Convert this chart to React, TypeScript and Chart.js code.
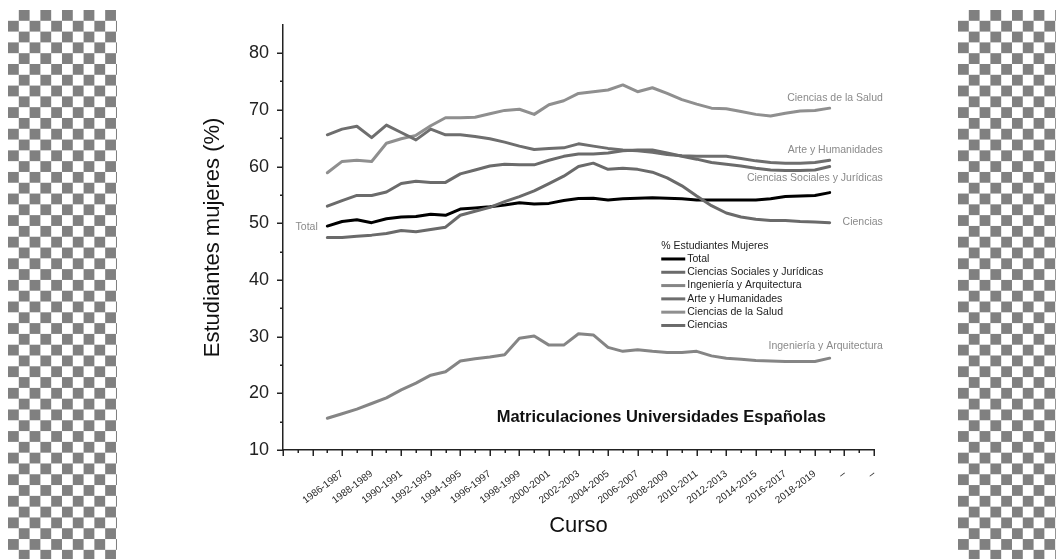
import React, { useEffect, useRef } from 'react';
import { Chart, registerables } from 'chart.js';

Chart.register(...registerables);

const cursos = [
  '1985-1986', '1986-1987', '1987-1988', '1988-1989', '1989-1990', '1990-1991', '1991-1992',
  '1992-1993', '1993-1994', '1994-1995', '1995-1996', '1996-1997', '1997-1998', '1998-1999',
  '1999-2000', '2000-2001', '2001-2002', '2002-2003', '2003-2004', '2004-2005', '2005-2006',
  '2006-2007', '2007-2008', '2008-2009', '2009-2010', '2010-2011', '2011-2012', '2012-2013',
  '2013-2014', '2014-2015', '2015-2016', '2016-2017', '2017-2018', '2018-2019', '2019-2020',
];

const xTickLabels = [
  '1986-1987', '1988-1989', '1990-1991', '1992-1993', '1994-1995', '1996-1997', '1998-1999',
  '2000-2001', '2002-2003', '2004-2005', '2006-2007', '2008-2009', '2010-2011', '2012-2013',
  '2014-2015', '2016-2017', '2018-2019', '–', '–',
];

const yTickLabels = [10, 20, 30, 40, 50, 60, 70, 80];

const total = [49.5, 50.3, 50.6, 50.1, 50.8, 51.1, 51.2, 51.6, 51.4, 52.5, 52.7, 52.9, 53.2, 53.6, 53.4, 53.5, 54.0, 54.35, 54.4, 54.1, 54.3, 54.4, 54.5, 54.4, 54.3, 54.1, 54.1, 54.1, 54.1, 54.1, 54.3, 54.7, 54.8, 54.9, 55.4];
const sociales = [53.0, 54.0, 54.9, 54.9, 55.5, 57.0, 57.4, 57.2, 57.2, 58.7, 59.4, 60.1, 60.4, 60.3, 60.3, 61.1, 61.8, 62.2, 62.2, 62.4, 62.8, 62.9, 62.9, 62.4, 61.8, 61.3, 60.7, 60.4, 60.1, 59.7, 59.4, 59.3, 59.3, 59.4, 60.0];
const ingenieria = [15.6, 16.4, 17.2, 18.2, 19.2, 20.6, 21.8, 23.2, 23.8, 25.7, 26.1, 26.4, 26.8, 29.7, 30.1, 28.5, 28.5, 30.5, 30.3, 28.1, 27.4, 27.7, 27.4, 27.2, 27.2, 27.4, 26.6, 26.2, 26.0, 25.8, 25.7, 25.6, 25.6, 25.6, 26.2];
const arte = [65.6, 66.6, 67.1, 65.1, 67.3, 66.0, 64.7, 66.6, 65.6, 65.6, 65.3, 64.9, 64.3, 63.6, 63.0, 63.2, 63.3, 64.0, 63.6, 63.2, 62.9, 62.8, 62.5, 62.1, 61.9, 61.8, 61.8, 61.8, 61.4, 61.0, 60.7, 60.6, 60.6, 60.7, 61.1];
const salud = [58.9, 60.9, 61.1, 60.9, 64.1, 64.9, 65.5, 67.2, 68.6, 68.6, 68.7, 69.3, 69.9, 70.1, 69.2, 70.9, 71.6, 72.9, 73.2, 73.5, 74.4, 73.2, 73.9, 72.9, 71.8, 71.0, 70.3, 70.2, 69.7, 69.2, 68.9, 69.4, 69.8, 69.9, 70.3];
const ciencias = [47.5, 47.5, 47.7, 47.9, 48.2, 48.7, 48.5, 48.9, 49.3, 51.4, 52.1, 52.8, 53.8, 54.7, 55.7, 57.0, 58.3, 60.0, 60.6, 59.5, 59.7, 59.5, 59.0, 58.0, 56.6, 54.8, 53.1, 51.8, 51.1, 50.7, 50.5, 50.5, 50.3, 50.2, 50.1];

const seriesNames = [
  'Total',
  'Ciencias Sociales y Jurídicas',
  'Ingeniería y Arquitectura',
  'Arte y Humanidades',
  'Ciencias de la Salud',
  'Ciencias',
];
const seriesValues = [total, sociales, ingenieria, arte, salud, ciencias];
const seriesColors = ['#000000', '#6b6b6b', '#858585', '#6e6e6e', '#8f8f8f', '#6a6a6a'];

const legendTitle = '% Estudiantes Mujeres';
const chartTitle = 'Matriculaciones Universidades Españolas';

// inline annotation labels: [text, anchor x (index), anchor y (value), align]
const inlineLabels: [string, number, number, CanvasTextAlign][] = [
  ['Ciencias de la Salud', 37.6, 72.1, 'right'],
  ['Arte y Humanidades', 37.6, 62.9, 'right'],
  ['Ciencias Sociales y Jurídicas', 37.6, 57.9, 'right'],
  ['Ciencias', 37.6, 50.2, 'right'],
  ['Ingeniería y Arquitectura', 37.6, 28.4, 'right'],
  ['Total', -0.65, 49.3, 'right'],
];

const FONT = '"Liberation Sans", Arial, Helvetica, sans-serif';

const decorPlugin = {
  id: 'decor',
  afterDraw(chart: any) {
    const { ctx } = chart;
    const xs = chart.scales.x;
    const ys = chart.scales.y;
    const area = chart.chartArea;
    ctx.save();
    // tick marks
    ctx.strokeStyle = '#222';
    ctx.lineWidth = 1.5;
    for (let i = -3; i <= 37; i++) {
      const px = Math.round(xs.getPixelForValue(i)) + 0.25;
      const len = Math.abs(i) % 2 === 1 ? 6 : 3;
      ctx.beginPath();
      ctx.moveTo(px, area.bottom);
      ctx.lineTo(px, area.bottom + len);
      ctx.stroke();
    }
    for (let v = 10; v <= 80; v += 5) {
      const py = Math.round(ys.getPixelForValue(v)) + 0.25;
      const len = v % 10 === 0 ? 6 : 3;
      ctx.beginPath();
      ctx.moveTo(area.left, py);
      ctx.lineTo(area.left - len, py);
      ctx.stroke();
    }
    // inline labels
    ctx.font = `10.5px ${FONT}`;
    ctx.fillStyle = '#8a8a8a';
    ctx.textBaseline = 'middle';
    inlineLabels.forEach(([text, xv, yv, align]) => {
      ctx.textAlign = align;
      ctx.fillText(text, xs.getPixelForValue(xv), ys.getPixelForValue(yv));
    });
    // legend
    const lx = xs.getPixelForValue(22.6);
    let ly = ys.getPixelForValue(45.9);
    ctx.textAlign = 'left';
    ctx.fillStyle = '#222';
    ctx.fillText(legendTitle, lx, ly);
    ly += 12.5;
    seriesNames.forEach((name, k) => {
      ctx.strokeStyle = seriesColors[k];
      ctx.lineWidth = 3;
      ctx.beginPath();
      ctx.moveTo(lx, ly);
      ctx.lineTo(lx + 24, ly);
      ctx.stroke();
      ctx.fillStyle = '#222';
      ctx.fillText(name, lx + 26, ly);
      ly += 13.3;
    });
    // title
    ctx.font = `bold 16.5px ${FONT}`;
    ctx.fillStyle = '#111';
    ctx.textAlign = 'center';
    ctx.fillText(chartTitle, xs.getPixelForValue(22.6), ys.getPixelForValue(15.8));
    ctx.restore();
  },
};

export default function App() {
  const ref = useRef<HTMLCanvasElement>(null);
  useEffect(() => {
    if (!ref.current) return;
    const order = [1, 2, 3, 4, 5, 0];
    const chart = new Chart(ref.current, {
      type: 'line',
      data: {
        datasets: order.map((k) => ({
          label: seriesNames[k],
          data: seriesValues[k].map((v, i) => ({ x: i, y: v })),
          borderColor: seriesColors[k],
          backgroundColor: seriesColors[k],
          borderWidth: 3,
          pointRadius: 0,
          tension: 0,
          borderJoinStyle: 'round' as const,
          borderCapStyle: 'round' as const,
        })),
      },
      options: {
        responsive: false,
        animation: false,
        devicePixelRatio: 1,
        layout: { padding: { left: 200, top: 15, right: 182, bottom: 20 } },
        plugins: { legend: { display: false }, tooltip: { enabled: false }, title: { display: false } },
        scales: {
          x: {
            type: 'linear',
            min: -3,
            max: 37,
            grid: { display: false, drawTicks: false },
            border: { display: true, color: '#222', width: 1.5 },
            afterFit: (s: any) => { s.height = 89; },
            ticks: {
              stepSize: 1,
              autoSkip: false,
              maxRotation: 37,
              minRotation: 37,
              padding: 18,
              color: '#2a2a2a',
              font: { family: FONT, size: 10 },
              callback: (v: any) => {
                const i = Number(v);
                if (i >= 1 && i % 2 === 1) return xTickLabels[(i - 1) / 2] ?? '';
                return '';
              },
            },
            title: {
              display: true,
              text: 'Curso',
              color: '#111',
              padding: { top: 0, bottom: 0 },
              font: { family: FONT, size: 22 },
            },
          },
          y: {
            type: 'linear',
            min: 10,
            max: 85,
            grid: { display: false, drawTicks: false },
            border: { display: true, color: '#222', width: 1.5 },
            afterFit: (s: any) => { s.width = 83; },
            ticks: {
              stepSize: 5,
              padding: 14,
              color: '#222',
              font: { family: FONT, size: 18 },
              callback: (v: any) => (yTickLabels.includes(Number(v)) ? String(v) : ''),
            },
            title: {
              display: true,
              text: 'Estudiantes mujeres (%)',
              color: '#111',
              padding: { top: 0, bottom: 0 },
              font: { family: FONT, size: 22 },
            },
          },
        },
      },
      plugins: [decorPlugin],
    });
    return () => chart.destroy();
  }, []);

  const checker: React.CSSProperties = {
    position: 'absolute',
    top: 10,
    bottom: 0,
    backgroundColor: '#fff',
    backgroundImage: 'repeating-conic-gradient(#808080 0% 25%, #ffffff 0% 50%)',
    backgroundSize: '21.6px 21.6px',
  };

  return (
    <div style={{ position: 'fixed', left: 0, top: 0, width: 1056, height: 559, background: '#fff', overflow: 'hidden' }}>
      <div style={{ ...checker, left: 8, width: 109 }} />
      <div style={{ ...checker, left: 958, width: 98 }} />
      <canvas ref={ref} width={1056} height={559} style={{ position: 'absolute', left: 0, top: 0, width: 1056, height: 559 }} />
    </div>
  );
}
